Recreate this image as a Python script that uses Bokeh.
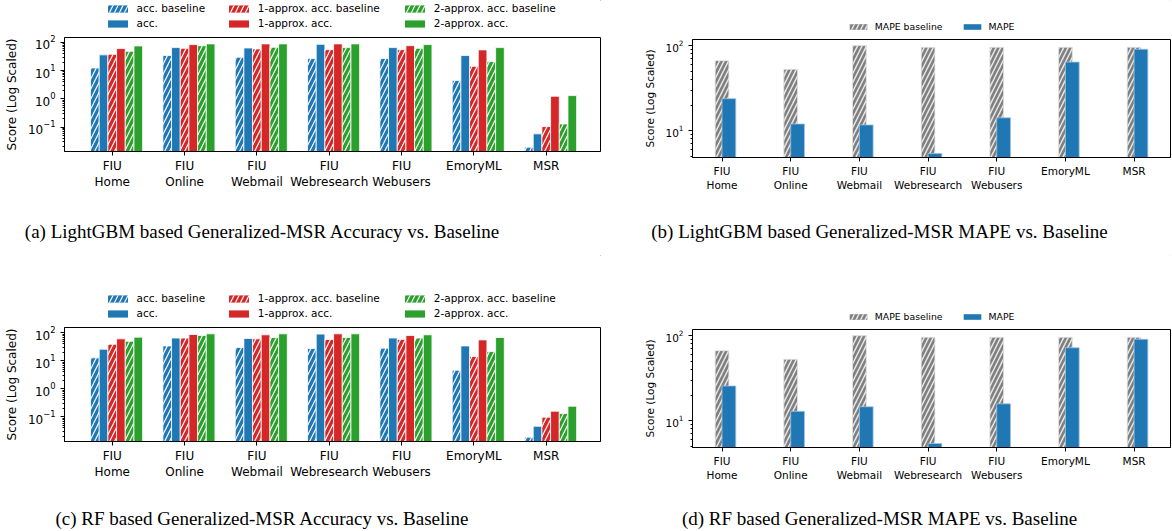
from bokeh.plotting import figure
from bokeh.layouts import column, row
from bokeh.models import Range1d, FixedTicker, Legend, LegendItem
from bokeh.core.properties import value
from bokeh.embed import file_html
from bokeh.resources import INLINE
import numpy as np

# ---------------- data ----------------
categories = ["FIU\nHome", "FIU\nOnline", "FIU\nWebmail", "FIU\nWebresearch",
              "FIU\nWebusers", "EmoryML", "MSR"]

# (a) LightGBM accuracy (%)
lgb_acc_baseline = [12.4, 34, 29.6, 26.5, 27, 4.5, 0.0195]
lgb_acc = [36, 65, 63, 85, 65, 34, 0.058]
lgb_1approx_baseline = [37.7, 61.5, 58.5, 55, 55, 14.2, 0.105]
lgb_1approx = [60, 83, 88, 88, 76, 54, 1.24]
lgb_2approx_baseline = [48, 76, 66.5, 65, 61.5, 20.8, 0.13]
lgb_2approx = [74.5, 88, 88, 88, 83, 65, 1.31]

# (c) RF accuracy (%)
rf_acc_baseline = [12.8, 34, 30, 27.6, 28.4, 4.6, 0.0188]
rf_acc = [26, 65, 63, 90, 65, 34, 0.046]
rf_1approx_baseline = [39, 65, 61, 58, 58, 14.3, 0.097]
rf_1approx = [61, 87, 85, 92, 80, 56, 0.159]
rf_2approx_baseline = [50, 80, 68, 68, 65, 21.5, 0.131]
rf_2approx = [70, 92, 92, 92, 85, 68, 0.24]

# (b)/(d) MAPE (%)
mape_baseline = [66.6, 52.7, 100, 95.6, 95.6, 95.6, 95.6]
lgb_mape = [23.8, 12.0, 11.7, 5.4, 14.2, 64, 90.6]
rf_mape = [25.6, 12.9, 14.6, 5.4, 15.8, 72, 90.6]

acc_labels = ["acc. baseline", "acc.", "1-approx. acc. baseline", "1-approx. acc.",
              "2-approx. acc. baseline", "2-approx. acc."]
mape_labels = ["MAPE baseline", "MAPE"]
captions_top = ["(a) LightGBM based Generalized-MSR Accuracy vs. Baseline",
                "(b) LightGBM based Generalized-MSR MAPE vs. Baseline"]
captions_bottom = ["(c) RF based Generalized-MSR Accuracy vs. Baseline",
                   "(d) RF based Generalized-MSR MAPE vs. Baseline"]

BLUE, RED, GREEN, GRAY = "#1f77b4", "#d62728", "#2ca02c", "#7f7f7f"
FONT = "DejaVu Sans"
SERIF = "Liberation Serif"
ACC_COLORS = [BLUE, BLUE, RED, RED, GREEN, GREEN]


def minors(lo, hi):
    return [m * 10.0 ** e for e in range(lo, hi + 1) for m in range(2, 10)]


def acc_style(k):
    kw = dict(fill_color=ACC_COLORS[k], line_color="white", line_width=0.8)
    if k % 2 == 0:
        kw.update(hatch_pattern="/", hatch_color="white", hatch_scale=10, hatch_weight=1.2)
    return kw


def mape_style(k):
    if k == 0:
        return dict(fill_color=GRAY, line_color="#e6e6e6", line_width=0.8, hatch_pattern="/",
                    hatch_color="#e6e6e6", hatch_scale=9, hatch_weight=1.5)
    return dict(fill_color=BLUE, line_color="#9cc3e0", line_width=0.8)


def style(p, fs_tick, fs_label, yticks, yminor):
    p.xgrid.grid_line_color = None
    p.ygrid.grid_line_color = None
    p.outline_line_color = "black"
    p.outline_line_width = 1
    for ax in (p.xaxis[0], p.yaxis[0]):
        ax.axis_line_color = "black"
        ax.major_tick_line_color = "black"
        ax.minor_tick_line_color = "black"
        ax.major_tick_in = 0
        ax.major_tick_out = 4
        ax.minor_tick_in = 0
        ax.minor_tick_out = 2
        ax.major_label_text_font = FONT
        ax.major_label_text_font_size = fs_tick
        ax.major_label_text_color = "black"
    p.xaxis.ticker = FixedTicker(ticks=list(range(len(categories))), minor_ticks=[])
    p.xaxis.major_label_overrides = {i: c for i, c in enumerate(categories)}
    p.xaxis.major_label_standoff = 3
    p.yaxis.ticker = FixedTicker(ticks=yticks, minor_ticks=yminor)
    p.yaxis.major_label_standoff = 5
    p.yaxis.axis_label = "Score (Log Scaled)"
    p.yaxis.axis_label_text_font = FONT
    p.yaxis.axis_label_text_font_size = fs_label
    p.yaxis.axis_label_text_font_style = "normal"
    p.yaxis.axis_label_text_color = "black"
    p.yaxis.axis_label_standoff = 6


def strip(width, height):
    # legend holder; its frame is aligned with the axes frame below it
    s = figure(width=width, height=height, x_range=Range1d(0, 1), y_range=Range1d(0, 1),
               x_axis_type=None, y_axis_type=None, toolbar_location=None,
               output_backend="svg", min_border=0)
    s.outline_line_color = None
    s.xgrid.grid_line_color = None
    s.ygrid.grid_line_color = None
    return s


def proxy(s, kw):
    # a bar far outside the strip's ranges, without outline: it only supplies a legend swatch
    kw = dict(kw, line_alpha=0)
    return s.vbar(x=[50], top=[60], bottom=[55], width=0.1, **kw)


def acc_panel(series, ylo, yhi, strip_h):
    s = strip(640, strip_h)
    dummies = [proxy(s, acc_style(k)) for k in range(6)]
    col_x = [40.5, 161.8, 337.8]
    for c in range(3):
        lg = Legend(items=[LegendItem(label=acc_labels[2 * c], renderers=[dummies[2 * c]]),
                           LegendItem(label=acc_labels[2 * c + 1], renderers=[dummies[2 * c + 1]])],
                    location=(col_x[c], 2.2), orientation="vertical",
                    padding=0, margin=0, spacing=0, border_line_alpha=0,
                    background_fill_alpha=0, glyph_width=25, glyph_height=9,
                    label_standoff=7, label_height=15,
                    label_text_font=FONT, label_text_font_size="10.5px",
                    label_text_color="black")
        s.add_layout(lg)

    p = figure(width=640, height=172, y_axis_type="log",
               x_range=Range1d(-0.66, 6.75), y_range=Range1d(ylo, yhi),
               toolbar_location=None, output_backend="svg",
               min_border_left=64, min_border_right=40,
               min_border_top=4, min_border_bottom=54)
    style(p, "12px", "12px", [0.1, 1, 10, 100], minors(-2, 2))
    w = 0.12
    xs = np.arange(len(categories))
    for k, vals in enumerate(series):
        p.vbar(x=xs + (k - 2) * w, top=vals, bottom=1e-4, width=w, **acc_style(k))
    return column(s, p, spacing=0)


def mape_panel(mape, strip_h, leg_y):
    s = strip(532, strip_h)
    d0 = proxy(s, mape_style(0))
    d1 = proxy(s, mape_style(1))
    lg = Legend(items=[LegendItem(label=mape_labels[0], renderers=[d0]),
                       LegendItem(label=mape_labels[1], renderers=[d1])],
                location=(154.8, leg_y), orientation="horizontal",
                padding=0, margin=0, spacing=18, border_line_alpha=0,
                background_fill_alpha=0, glyph_width=22, glyph_height=7,
                label_standoff=6, label_height=12,
                label_text_font=FONT, label_text_font_size="9.3px",
                label_text_color="black")
    s.add_layout(lg)

    p = figure(width=532, height=172, y_axis_type="log",
               x_range=Range1d(-0.43, 6.53), y_range=Range1d(4.85, 118),
               toolbar_location=None, output_backend="svg",
               min_border_left=52, min_border_right=2,
               min_border_top=6, min_border_bottom=48)
    style(p, "10.5px", "10.5px", [10, 100], minors(0, 2))
    xs = np.arange(len(categories))
    p.vbar(x=xs, top=mape_baseline, bottom=1, width=0.2, **mape_style(0))
    p.vbar(x=xs + 0.1, top=mape, bottom=1, width=0.2, **mape_style(1))
    return column(s, p, spacing=0)


def caption_fig(texts, height, ty):
    p = figure(width=1172, height=height, x_range=Range1d(0, 1172), y_range=Range1d(0, height),
               x_axis_type=None, y_axis_type=None, toolbar_location=None,
               output_backend="svg", min_border=0)
    p.outline_line_color = None
    p.xgrid.grid_line_color = None
    p.ygrid.grid_line_color = None
    p.text(x=[262, 879], y=[ty, ty], text=texts, text_align="center",
           text_baseline="middle", text_font=value(SERIF), text_font_size="19px",
           text_color="black")
    return p


pa = acc_panel([lgb_acc_baseline, lgb_acc, lgb_1approx_baseline, lgb_1approx,
                lgb_2approx_baseline, lgb_2approx], 10 ** -1.86, 10 ** 2.17, strip_h=33)
pb = mape_panel(lgb_mape, strip_h=33, leg_y=0.3)
pc = acc_panel([rf_acc_baseline, rf_acc, rf_1approx_baseline, rf_1approx,
                rf_2approx_baseline, rf_2approx], 10 ** -1.88, 10 ** 2.19, strip_h=68)
pd = mape_panel(rf_mape, strip_h=68, leg_y=1.0)

cap1 = caption_fig(captions_top, 50, 24)
cap2 = caption_fig(captions_bottom, 36, 13)

layout = column(row(pa, pb, spacing=0), cap1, row(pc, pd, spacing=0), cap2, spacing=0)
open("out.html", "w").write(file_html(layout, INLINE))
